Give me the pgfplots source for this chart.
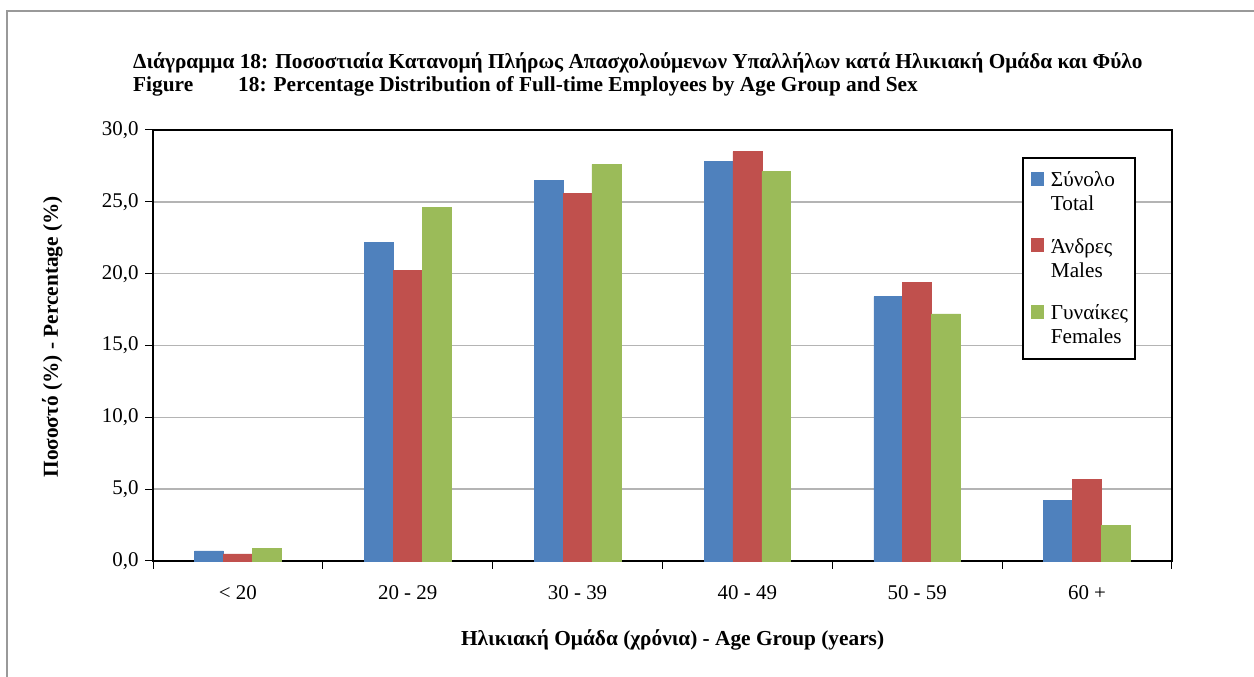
\documentclass[border=0pt]{standalone}
\usepackage{pgfplots}
\pgfplotsset{compat=1.18}
\usepackage{fontspec}
\setmainfont{Liberation Serif}
\definecolor{cblue}{HTML}{4F81BD}
\definecolor{cred}{HTML}{C0504D}
\definecolor{cgreen}{HTML}{9BBB59}
\definecolor{gridgray}{HTML}{B4B4B4}
\begin{document}
\begin{tikzpicture}[x=1bp,y=1bp]
\path[use as bounding box] (0,0) rectangle (1254,677);
\draw[color=gray!80, line width=2bp] (7,-5) -- (7,666) -- (1260,666);
\node[anchor=base west, font=\fontsize{21.4}{24}\selectfont\bfseries, inner sep=0] at (133,608) {Διάγραμμα 18: Ποσοστιαία Κατανομή Πλήρως Απασχολούμενων Υπαλλήλων κατά Ηλικιακή Ομάδα και Φύλο};
\node[anchor=base west, font=\fontsize{21.4}{24}\selectfont\bfseries, inner sep=0] at (133,585) {Figure};
\node[anchor=base west, font=\fontsize{21.4}{24}\selectfont\bfseries, inner sep=0] at (238,585) {18: Percentage Distribution of Full-time Employees by Age Group and Sex};
\begin{axis}[
  at={(153bp,116bp)}, anchor=south west,
  scale only axis, width=1019bp, height=431bp,
  xmin=-0.5, xmax=5.5, ymin=0, ymax=30,
  ybar=0pt, bar width=0.17,
  xtick={0,1,2,3,4,5},
  xticklabels={< 20, 20 - 29, 30 - 39, 40 - 49, 50 - 59, 60 +},
  major x tick style={draw=none},
  minor xtick={-0.5,0.5,1.5,2.5,3.5,4.5,5.5},
  minor x tick style={black, line width=1bp},
  minor tick length=8bp,
  ytick={0,5,...,30},
  major tick length=8bp,
  y tick style={black, line width=1bp},
  tick align=outside, xtick pos=bottom, ytick pos=left,
  ymajorgrids, grid style={gridgray, line width=1.5bp},
  axis line style={black, line width=2.2bp},
  yticklabel style={/pgf/number format/fixed, /pgf/number format/fixed zerofill, /pgf/number format/precision=1, /pgf/number format/use comma, /pgf/number format/assume math mode=true, xshift=-3bp},
  tick label style={font=\fontsize{21}{24}\selectfont},
  xticklabel style={yshift=-13bp},
  xlabel={Ηλικιακή Ομάδα (χρόνια) - Age Group (years)},
  ylabel={Ποσοστό (\%) - Percentage (\%)},
  label style={font=\fontsize{21.4}{24}\selectfont\bfseries},
  xlabel style={at={(axis description cs:0.51,0)}, anchor=base, yshift=-85bp},
  ylabel style={at={(axis description cs:0,0.52)}, anchor=base, yshift=95bp},
  legend style={at={(0.8528,0.9374)}, anchor=north west, draw=black, line width=2bp,
    font=\fontsize{21.3}{24}\selectfont, inner xsep=5bp, inner ysep=12bp, row sep=22bp,
    cells={align=left, anchor=west}},
  legend image code/.code={\path[draw=none, fill=none] (0bp,6bp) rectangle (21bp,20bp); \fill[#1, draw=none] (3bp,6bp) rectangle (16bp,20bp);},
  enlargelimits=false, clip=false,
]
\addplot[fill=cblue, draw=cblue, line width=0.6bp, bar shift=-0.17] coordinates {(0,0.7) (1,22.2) (2,26.5) (3,27.8) (4,18.4) (5,4.2)};
\addplot[fill=cred, draw=cred, line width=0.6bp, bar shift=0] coordinates {(0,0.5) (1,20.2) (2,25.6) (3,28.5) (4,19.4) (5,5.7)};
\addplot[fill=cgreen, draw=cgreen, line width=0.6bp, bar shift=0.17] coordinates {(0,0.9) (1,24.6) (2,27.6) (3,27.1) (4,17.2) (5,2.45)};
\legend{Σύνολο\\Total, Άνδρες\\Males, Γυναίκες\\Females}
\end{axis}
\end{tikzpicture}
\end{document}
